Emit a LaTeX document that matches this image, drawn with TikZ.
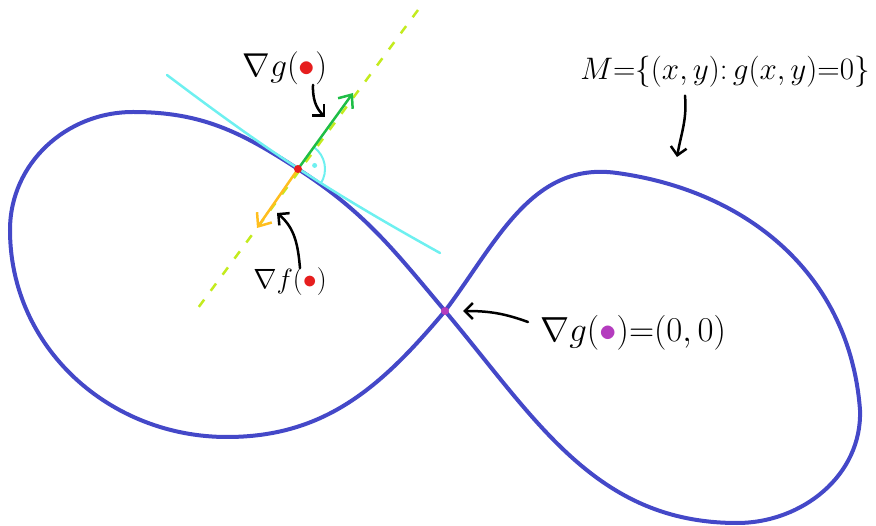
\documentclass[tikz,border=0pt]{standalone}
\usetikzlibrary{arrows.meta, positioning}
\definecolor{curveblue}{RGB}{68,72,200}
\definecolor{tanc}{RGB}{110,240,240}
\definecolor{gradg}{RGB}{30,190,70}
\definecolor{gradf}{RGB}{255,190,30}
\definecolor{normc}{RGB}{195,235,30}
\definecolor{critc}{RGB}{180,60,190}
\definecolor{ptred}{RGB}{230,30,30}

\begin{document}
\begin{tikzpicture}[
    x=1pt, y=1pt,
    curve/.style={draw=curveblue, line width=4pt},
    tangent/.style={draw=tanc, line width=2.5pt, line cap=round},
    normal/.style={draw=normc, line width=2.5pt, dash pattern=on 9pt off 11pt},
    grad/.style={-{Straight Barb[length=11pt,width=18pt]}, line width=2.5pt, line cap=round},
    hand/.style={-{Straight Barb[length=8pt,width=16pt]}, line width=2.5pt, line cap=round},
    lbl/.style={inner sep=1.5pt, font=\Huge},
]
\useasboundingbox (0,0) rectangle (876,-526);

% Points
\coordinate (P) at (298,-169);
\coordinate (O) at (445,-311);
\coordinate (N1) at (418,-10);
\coordinate (N2) at (198,-308);
\coordinate (T1) at (167,-75);
\coordinate (T2) at (440,-253);
\coordinate (gEnd) at (353,-93);
\coordinate (fEnd) at (257,-228);

% Level set
\draw[curve] (O) to[out=130,in=-33] (P)
    to[out=147,in=0] (133,-112)
    to[out=180,in=90] (10,-230)
    to[out=-90,in=180] (227,-437)
    to[out=0,in=230] (O)
    to[out=53,in=172] (617,-173)
    .. controls (748,-191) and (850,-275) .. (860,-410)
    to[out=-88,in=0] (737,-523)
    to[out=180,in=-50] (O);

% Tangent and normal
\draw[tangent] (T1) to[bend right=4] (T2);
\draw[normal] (N1) -- (N2);
\draw[tanc, line width=2pt] (P) ++(-33:27pt) arc[start angle=-33, end angle=54, radius=27pt];
\fill[tanc] (P) ++(12:17pt) circle[radius=2.5pt];

% Gradients
\draw[grad, gradg] (P) -- (gEnd);
\draw[grad, gradf] (P) -- (fEnd);

% Points
\fill[ptred] (P) circle[radius=4pt];
\fill[critc] (O) circle[radius=4pt];

% Labels
\node[lbl, scale=1.33] (gP) at (285,-68) {$\nabla g(\textcolor{ptred}{\bullet})$};
\node[lbl, scale=1.12] (fP) at (290,-282) {$\nabla f(\textcolor{ptred}{\bullet})$};
\node[lbl, scale=1.25] (M) at (725,-72) {$M{=}\{(x,y){:}\,g(x,y){=}0\}$};
\node[lbl, scale=1.4, anchor=west] (crit) at (538,-333)
    {$\nabla g(\textcolor{critc}{\bullet}){=}(0,0)$};

% Pointers
\coordinate (gTip) at (325,-117);
\coordinate (fTip) at (277,-213);
\coordinate (MTip) at (677,-157);
\coordinate (OTip) at (463,-311);
\draw[hand] (gP.south) ++(28,2) to[out=-92,in=135] (gTip);
\draw[hand] (fP.north) ++(10,-2) to[out=95,in=-40] (fTip);
\draw[hand] (M.south) ++(-40,-6) to[out=-85,in=80] (MTip);
\draw[hand] (crit.west) ++(-10,11) to[out=160,in=0] (OTip);

\end{tikzpicture}
\end{document}
